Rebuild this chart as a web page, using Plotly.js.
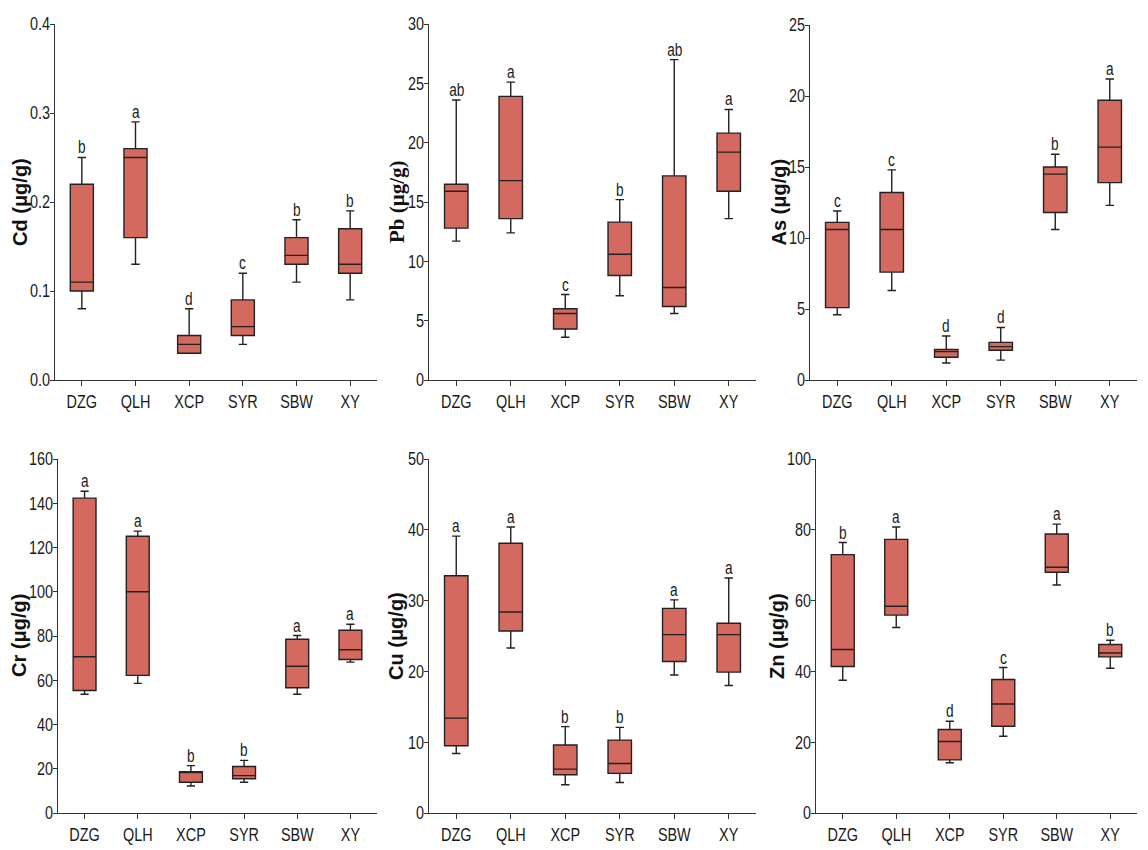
<!DOCTYPE html>
<html>
<head>
<meta charset="utf-8">
<script src="https://cdn.plot.ly/plotly-3.0.1.min.js"></script>
<style>
  html, body { margin: 0; padding: 0; background: #ffffff; }
  #chart { width: 1148px; height: 850px; }
</style>
</head>
<body>
<div id="chart"></div>
<script>
// Sampling sites
const categories = ['DZG', 'QLH', 'XCP', 'SYR', 'SBW', 'XY'];

// Cd (µg/g): whisker min, Q1, median, Q3, whisker max, significance letters
const cdMin = [0.08, 0.13, 0.03, 0.04, 0.11, 0.09];
const cdQ1  = [0.10, 0.16, 0.03, 0.05, 0.13, 0.12];
const cdMed = [0.11, 0.25, 0.04, 0.06, 0.14, 0.13];
const cdQ3  = [0.22, 0.26, 0.05, 0.09, 0.16, 0.17];
const cdMax = [0.25, 0.29, 0.08, 0.12, 0.18, 0.19];
const cdLetters = ['b', 'a', 'd', 'c', 'b', 'b'];

// Pb (µg/g)
const pbMin = [11.7, 12.4, 3.6, 7.1, 5.6, 13.6];
const pbQ1  = [12.8, 13.6, 4.3, 8.8, 6.2, 15.9];
const pbMed = [15.9, 16.8, 5.6, 10.6, 7.8, 19.2];
const pbQ3  = [16.5, 23.9, 6.0, 13.3, 17.2, 20.8];
const pbMax = [23.6, 25.1, 7.2, 15.2, 27.0, 22.8];
const pbLetters = ['ab', 'a', 'c', 'b', 'ab', 'a'];

// As (µg/g)
const asMin = [4.6, 6.3, 1.2, 1.4, 10.6, 12.3];
const asQ1  = [5.1, 7.6, 1.6, 2.1, 11.8, 13.9];
const asMed = [10.6, 10.6, 2.0, 2.35, 14.5, 16.4];
const asQ3  = [11.1, 13.2, 2.15, 2.65, 15.0, 19.7];
const asMax = [11.9, 14.8, 3.1, 3.7, 15.9, 21.2];
const asLetters = ['c', 'c', 'd', 'd', 'b', 'a'];

// Cr (µg/g)
const crMin = [53.7, 58.6, 12.2, 13.9, 53.7, 68.2];
const crQ1  = [55.4, 62.2, 13.9, 15.5, 56.6, 69.4];
const crMed = [70.6, 100.0, 18.3, 16.9, 66.3, 73.8];
const crQ3  = [142.3, 125.1, 18.7, 21.0, 78.5, 82.6];
const crMax = [145.4, 127.4, 21.4, 23.8, 80.2, 85.3];
const crLetters = ['a', 'a', 'b', 'b', 'a', 'a'];

// Cu (µg/g)
const cuMin = [8.4, 23.3, 4.0, 4.3, 19.5, 18.0];
const cuQ1  = [9.5, 25.7, 5.4, 5.6, 21.4, 19.9];
const cuMed = [13.4, 28.4, 6.2, 7.0, 25.2, 25.2];
const cuQ3  = [33.5, 38.1, 9.6, 10.3, 28.9, 26.8];
const cuMax = [39.1, 40.4, 12.2, 12.1, 30.1, 33.2];
const cuLetters = ['a', 'a', 'b', 'b', 'a', 'a'];

// Zn (µg/g)
const znMin = [37.5, 52.4, 14.2, 21.7, 64.4, 40.9];
const znQ1  = [41.4, 55.9, 15.0, 24.5, 68.0, 44.1];
const znMed = [46.2, 58.4, 20.2, 30.8, 69.4, 45.2];
const znQ3  = [73.0, 77.3, 23.6, 37.7, 78.8, 47.6];
const znMax = [76.4, 80.8, 25.9, 41.1, 81.6, 48.8];
const znLetters = ['b', 'a', 'd', 'c', 'a', 'b'];

const W = 1148, H = 850;
const sansFamily = '"Liberation Sans", Arial, sans-serif';
const tickFont = { family: sansFamily, size: 18.5, color: '#1a1a1a' };
const letterFont = { family: sansFamily, size: 17.5, color: '#1a1a1a' };
// horizontal squeeze applied to tick labels and letters (narrow face look)
const NARROW = 0.78;
// y tick labels sit a little closer to their axis line
const Y_LABEL_NUDGE = 4;

const panels = [
  { min: cdMin, q1: cdQ1, med: cdMed, q3: cdQ3, max: cdMax, letters: cdLetters,
    title: 'Cd (μg/g)', serif: false, range: [0, 0.4], dtick: 0.1, fmt: '.1f',
    px: [55, 377], py: [24, 380], tx: 20 },
  { min: pbMin, q1: pbQ1, med: pbMed, q3: pbQ3, max: pbMax, letters: pbLetters,
    title: 'Pb (μg/g)', serif: true, range: [0, 30], dtick: 5, fmt: '',
    px: [429, 756], py: [24, 380], tx: 397 },
  { min: asMin, q1: asQ1, med: asMed, q3: asQ3, max: asMax, letters: asLetters,
    title: 'As (μg/g)', serif: false, range: [0, 25], dtick: 5, fmt: '',
    px: [810, 1137], py: [25, 380], tx: 778 },
  { min: crMin, q1: crQ1, med: crMed, q3: crQ3, max: crMax, letters: crLetters,
    title: 'Cr (μg/g)', serif: false, range: [0, 160], dtick: 20, fmt: '',
    px: [58, 377], py: [459, 813], tx: 19 },
  { min: cuMin, q1: cuQ1, med: cuMed, q3: cuQ3, max: cuMax, letters: cuLetters,
    title: 'Cu (μg/g)', serif: false, range: [0, 50], dtick: 10, fmt: '',
    px: [429, 756], py: [459, 813], tx: 396 },
  { min: znMin, q1: znQ1, med: znMed, q3: znQ3, max: znMax, letters: znLetters,
    title: 'Zn (μg/g)', serif: false, range: [0, 100], dtick: 20, fmt: '',
    px: [816, 1137], py: [459, 813], tx: 777 }
];

const data = [];
const layout = {
  width: W, height: H,
  margin: { l: 0, r: 0, t: 0, b: 0 },
  paper_bgcolor: '#ffffff',
  plot_bgcolor: '#ffffff',
  showlegend: false,
  annotations: []
};

panels.forEach((p, i) => {
  const n = i + 1;
  const xa = 'x' + (n === 1 ? '' : n);
  const ya = 'y' + (n === 1 ? '' : n);

  data.push({
    type: 'box',
    xaxis: xa, yaxis: ya,
    x: categories,
    lowerfence: p.min, q1: p.q1, median: p.med, q3: p.q3, upperfence: p.max,
    boxpoints: false,
    width: 0.43,
    whiskerwidth: 0.36,
    fillcolor: '#D4695F',
    line: { color: '#222222', width: 1.4 },
    hoverinfo: 'skip'
  });

  layout['xaxis' + (n === 1 ? '' : n)] = {
    domain: [p.px[0] / W, p.px[1] / W],
    anchor: ya,
    type: 'category',
    range: [-0.5, 5.5],
    showgrid: false, zeroline: false,
    showline: true, linecolor: '#333333', linewidth: 1.2,
    ticks: 'outside', ticklen: 5, tickwidth: 1, tickcolor: '#333333',
    tickfont: tickFont, fixedrange: true
  };
  layout['yaxis' + (n === 1 ? '' : n)] = {
    domain: [1 - p.py[1] / H, 1 - p.py[0] / H],
    anchor: xa,
    range: p.range,
    dtick: p.dtick, tick0: 0,
    tickformat: p.fmt,
    showgrid: false, zeroline: false,
    showline: true, linecolor: '#333333', linewidth: 1.2,
    ticks: 'outside', ticklen: 4, tickwidth: 1, tickcolor: '#333333',
    tickfont: tickFont, fixedrange: true
  };

  // significance letters above each upper whisker
  categories.forEach((c, k) => {
    layout.annotations.push({
      xref: xa, yref: ya, x: c, y: p.max[k],
      text: p.letters[k], showarrow: false,
      yanchor: 'bottom', yshift: -2,
      font: letterFont
    });
  });

  // y-axis title
  layout.annotations.push({
    xref: 'paper', yref: 'paper',
    x: p.tx / W, y: 1 - (p.py[0] + p.py[1]) / 2 / H,
    xanchor: 'center', yanchor: 'middle',
    text: '<b>' + p.title + '</b>', textangle: -90, showarrow: false,
    font: p.serif
      ? { family: '"Liberation Serif", "Times New Roman", serif', size: 21, color: '#111111' }
      : { family: sansFamily, size: 20, color: '#111111' }
  });
});

Plotly.newPlot('chart', data, layout, { staticPlot: true, displayModeBar: false }).then(gd => {
  // squeeze tick labels and group letters horizontally, keeping their anchor point
  const squeeze = (t, extra) => {
    const len = t.getComputedTextLength();
    if (!(len > 0)) return;
    const anchor = t.getAttribute('text-anchor') || getComputedStyle(t).textAnchor || 'start';
    const b0 = t.getBBox();
    t.setAttribute('textLength', (len * NARROW).toFixed(2));
    t.setAttribute('lengthAdjust', 'spacingAndGlyphs');
    const b1 = t.getBBox();
    let dx = extra || 0;
    if (anchor === 'end') dx += (b0.x + b0.width) - (b1.x + b1.width);
    else if (anchor === 'middle') dx += (b0.x + b0.width / 2) - (b1.x + b1.width / 2);
    else dx += b0.x - b1.x;
    if (Math.abs(dx) > 0.01) {
      const x = parseFloat(t.getAttribute('x') || '0');
      t.setAttribute('x', (x + dx).toFixed(2));
    }
  };
  gd.querySelectorAll('.xaxislayer-above text').forEach(t => squeeze(t, 0));
  gd.querySelectorAll('.yaxislayer-above text').forEach(t => squeeze(t, Y_LABEL_NUDGE));
  gd.querySelectorAll('.annotation-text').forEach(t => {
    if (/^[a-d]+$/.test(t.textContent)) squeeze(t, 0);
  });
});
</script>
</body>
</html>
